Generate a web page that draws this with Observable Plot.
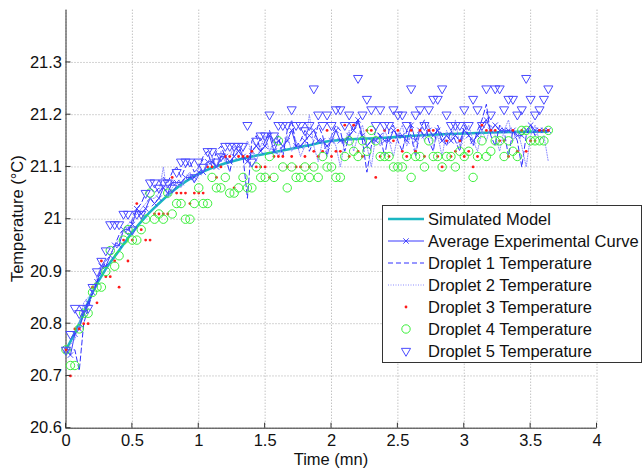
<!DOCTYPE html>
<html><head><meta charset="utf-8">
<script src="https://cdn.jsdelivr.net/npm/d3@7"></script>
<script src="https://cdn.jsdelivr.net/npm/@observablehq/plot@0.6"></script>
<style>body{margin:0;background:#fff;} svg{display:block;} #chart{position:relative;}</style>
</head><body><div id="chart"></div>
<script>
// sampling interval of the experimental series (minutes)
const sampleStep = 1 / 30;

// Simulated model (read at selected times)
const modelTime = [0, 0.1, 0.2, 0.3, 0.4, 0.5, 0.6, 0.7, 0.8, 0.9, 1.0, 1.2, 1.4, 1.6, 1.8, 2.0, 2.4, 2.8, 3.2, 3.63];
const modelTemp = [20.75, 20.80, 20.86, 20.905, 20.94, 20.975, 21.005, 21.03, 21.053, 21.072, 21.087, 21.107, 21.12, 21.13, 21.14, 21.15, 21.156, 21.162, 21.166, 21.168];

const avgTemp = [20.75,20.74,20.78,20.79,20.82,20.84,20.86,20.88,20.91,20.91,20.93,20.95,20.95,20.98,20.98,20.99,21.02,21.01,21.02,21.04,
21.03,21.04,21.06,21.05,21.07,21.07,21.07,21.08,21.08,21.08,21.09,21.09,21.11,21.11,21.10,21.12,21.12,21.11,21.12,21.13,
21.12,21.11,21.13,21.14,21.13,21.14,21.16,21.13,21.15,21.14,21.15,21.17,21.14,21.14,21.15,21.16,21.17,21.15,21.15,21.14,
21.15,21.17,21.15,21.15,21.16,21.17,21.19,21.16,21.14,21.15,21.15,21.16,21.15,21.15,21.17,21.16,21.16,21.15,21.18,21.15,
21.17,21.16,21.17,21.16,21.17,21.15,21.16,21.15,21.16,21.15,21.17,21.16,21.15,21.16,21.18,21.19,21.17,21.18,21.17,21.17,
21.17,21.17,21.16,21.16,21.17,21.18,21.17,21.17,21.17,21.17];

const droplet1 = [20.75,20.75,20.75,20.71,20.80,20.83,20.86,20.88,20.90,20.92,20.93,20.95,20.97,20.98,20.97,21.00,21.02,21.03,21.05,21.06,
21.05,21.06,21.08,21.07,21.09,21.10,21.08,21.10,21.11,21.09,21.10,21.12,21.13,21.10,21.13,21.14,21.12,21.09,21.13,21.14,
21.12,21.04,21.15,21.16,21.13,21.15,21.17,21.14,21.16,21.12,21.17,21.19,21.14,21.15,21.17,21.13,21.15,21.18,21.16,21.12,
21.16,21.18,21.17,21.13,21.16,21.18,21.19,21.15,21.09,21.14,21.17,21.16,21.12,21.17,21.18,21.15,21.13,21.17,21.16,21.12,
21.17,21.19,21.15,21.13,21.18,21.16,21.14,21.17,21.15,21.13,21.18,21.16,21.14,21.17,21.19,21.22,21.16,21.14,21.18,21.17,
21.12,21.17,21.15,21.10,21.16,21.18,21.16,21.17,21.17,21.17];

const droplet2 = [20.75,20.76,20.77,20.80,20.84,20.85,20.86,20.89,20.91,20.92,20.93,20.95,20.96,20.98,20.99,21.00,21.01,21.02,21.03,21.04,
21.04,21.05,21.10,21.04,21.06,21.07,21.06,21.08,21.09,21.07,21.10,21.09,21.11,21.12,21.10,21.13,21.11,21.12,21.14,21.12,
21.13,21.15,21.13,21.11,21.14,21.16,21.13,21.15,21.12,21.14,21.16,21.13,21.15,21.12,21.14,21.20,21.14,21.11,21.15,21.13,
21.16,21.14,21.10,21.15,21.17,21.13,21.16,21.18,21.14,21.10,21.16,21.14,21.17,21.15,21.12,21.16,21.18,21.14,21.16,21.13,
21.17,21.15,21.18,21.14,21.16,21.12,21.17,21.15,21.19,21.14,21.16,21.18,21.15,21.13,21.17,21.15,21.18,21.16,21.13,21.17,
21.19,21.15,21.17,21.14,21.10,21.16,21.18,21.15,21.16,21.11];

const droplet3 = [20.75,20.70,20.79,20.79,20.80,20.80,20.87,20.84,20.92,20.89,20.89,20.92,20.87,20.96,20.92,20.96,21.03,20.98,20.96,20.96,
21.01,21.01,21.01,21.01,21.08,21.05,21.05,21.05,21.03,21.05,21.05,21.05,21.10,21.10,21.08,21.10,21.12,21.12,21.06,21.12,
21.12,21.12,21.13,21.10,21.10,21.10,21.08,21.12,21.12,21.12,21.10,21.12,21.10,21.10,21.12,21.10,21.13,21.12,21.13,21.17,
21.12,21.13,21.13,21.18,21.12,21.18,21.13,21.12,21.17,21.17,21.08,21.12,21.17,21.12,21.15,21.17,21.13,21.12,21.17,21.13,
21.17,21.12,21.17,21.17,21.12,21.10,21.15,21.12,21.13,21.15,21.12,21.13,21.10,21.12,21.18,21.17,21.17,21.17,21.15,21.15,
21.12,21.17,21.13,21.17,21.13,21.15,21.15,21.17,21.17,21.17];

const droplet4 = [20.75,20.72,20.72,20.79,20.82,20.82,20.86,20.87,20.87,20.90,20.94,20.91,20.93,20.96,20.98,20.96,20.96,20.98,21.00,21.05,
21.00,21.01,21.00,21.05,21.01,21.03,21.03,21.00,21.00,21.03,21.06,21.03,21.03,21.08,21.06,21.06,21.08,21.05,21.05,21.06,
21.08,21.06,21.06,21.10,21.08,21.08,21.12,21.08,21.15,21.10,21.06,21.10,21.08,21.08,21.10,21.08,21.10,21.08,21.12,21.10,
21.10,21.08,21.08,21.12,21.15,21.13,21.12,21.15,21.13,21.17,21.15,21.12,21.12,21.12,21.10,21.10,21.10,21.12,21.08,21.12,
21.12,21.10,21.15,21.12,21.12,21.10,21.12,21.12,21.10,21.13,21.12,21.13,21.08,21.12,21.15,21.12,21.13,21.15,21.15,21.12,
21.15,21.13,21.12,21.17,21.17,21.15,21.15,21.15,21.15,21.17];

const droplet5 = [20.75,20.78,20.83,20.82,20.83,20.83,20.87,20.90,20.92,20.94,20.99,20.99,20.99,21.01,21.01,20.98,21.01,21.01,21.05,21.07,
21.07,21.06,21.07,21.07,21.06,21.09,21.11,21.11,21.11,21.08,21.11,21.10,21.13,21.13,21.11,21.12,21.14,21.14,21.14,21.14,
21.14,21.18,21.11,21.15,21.16,21.16,21.20,21.16,21.18,21.18,21.18,21.21,21.18,21.18,21.17,21.18,21.25,21.20,21.18,21.20,
21.18,21.21,21.21,21.18,21.20,21.18,21.27,21.20,21.23,21.21,21.18,21.21,21.18,21.18,21.21,21.20,21.20,21.18,21.25,21.20,
21.21,21.18,21.21,21.23,21.23,21.25,21.20,21.18,21.18,21.18,21.21,21.18,21.23,21.21,21.18,21.25,21.20,21.25,21.25,21.21,
21.23,21.23,21.20,21.21,21.27,21.23,21.20,21.21,21.23,21.25];

const xTicks = [0, 0.5, 1, 1.5, 2, 2.5, 3, 3.5, 4];
const yTicks = [20.6, 20.7, 20.8, 20.9, 21, 21.1, 21.2, 21.3];
const legendLabels = ["Simulated Model", "Average Experimental Curve", "Droplet 1 Temperature",
  "Droplet 2 Temperature", "Droplet 3 Temperature", "Droplet 4 Temperature", "Droplet 5 Temperature"];

const series = vals => vals.map((v, i) => ({t: i * sampleStep, v}));
const modelData = modelTime.map((t, i) => ({t, v: modelTemp[i]}));

const C = {model: "#1bb6c2", avg: "#3a3aff", d1: "#3030ff", d2: "#8c8cff", d3: "#ff1a1a", d4: "#3cf03c", d5: "#4a4aff"};
const font = "Liberation Sans, Arial, Helvetica, sans-serif";

const plot = Plot.plot({
  width: 643, height: 469,
  marginLeft: 65.5, marginRight: 46.5, marginTop: 9.7, marginBottom: 41.3,
  style: {fontFamily: font, fontSize: "16px", background: "#fff", color: "#111"},
  x: {domain: [0, 4]},
  y: {domain: [20.6, 21.4]},
  marks: [
    Plot.gridX(xTicks, {stroke: "#a8a8a8", strokeOpacity: 1, strokeDasharray: "1,2"}),
    Plot.gridY(yTicks, {stroke: "#a8a8a8", strokeOpacity: 1, strokeDasharray: "1,2"}),
    Plot.axisX(xTicks, {tickSize: 0, tickPadding: 6, label: null, tickFormat: d => String(d), fontSize: 16.5}),
    Plot.axisY(yTicks, {tickSize: 0, tickPadding: 4, label: null, tickFormat: d => String(d), fontSize: 16.5}),
    Plot.ruleX([0], {stroke: "#333"}),
    Plot.ruleY([20.6], {stroke: "#333"}),
    Plot.line(modelData, {x: "t", y: "v", stroke: C.model, strokeWidth: 2.6, curve: "monotone-x"}),
    Plot.line(series(avgTemp), {x: "t", y: "v", stroke: C.avg, strokeWidth: 1}),
    Plot.dot(series(avgTemp), {x: "t", y: "v", symbol: "times", r: 2.6, stroke: C.avg, strokeWidth: 0.9}),
    Plot.line(series(droplet1), {x: "t", y: "v", stroke: C.d1, strokeWidth: 1, strokeDasharray: "5,3"}),
    Plot.line(series(droplet2), {x: "t", y: "v", stroke: C.d2, strokeWidth: 1, strokeDasharray: "1,1.5"}),
    Plot.dot(series(droplet3), {x: "t", y: "v", r: 1.4, fill: C.d3, stroke: "none"}),
    Plot.dot(series(droplet4), {x: "t", y: "v", r: 4.2, fill: "none", stroke: C.d4, strokeWidth: 1}),
    Plot.dot(series(droplet5), {x: "t", y: "v", symbol: "triangle", r: 3.4, rotate: 180, fill: "none", stroke: C.d5, strokeWidth: 1})
  ]
});

document.getElementById("chart").appendChild(plot);

const svg = d3.select(plot);
const xs = plot.scale("x"), ys = plot.scale("y");
const x0 = xs.apply(0), y0 = ys.apply(20.6);

// inward tick marks
const tk = svg.append("g").attr("stroke", "#333").attr("stroke-width", 1);
xTicks.forEach(d => tk.append("line").attr("x1", xs.apply(d)).attr("x2", xs.apply(d)).attr("y1", y0).attr("y2", y0 - 5));
yTicks.forEach(d => tk.append("line").attr("x1", x0).attr("x2", x0 + 5).attr("y1", ys.apply(d)).attr("y2", ys.apply(d)));

// axis titles
svg.append("text").attr("x", (x0 + xs.apply(4)) / 2).attr("y", 459).attr("text-anchor", "middle")
  .attr("dominant-baseline", "central").attr("font-family", font).attr("font-size", 16.5).attr("fill", "#111").text("Time (mn)");
svg.append("text").attr("transform", `translate(17,${(ys.apply(21.4) + y0) / 2}) rotate(-90)`).attr("text-anchor", "middle")
  .attr("dominant-baseline", "central").attr("font-family", font).attr("font-size", 16.5).attr("fill", "#111").text("Temperature (°C)");

// legend
const lg = svg.append("g").attr("font-family", font).attr("font-size", 16.5).attr("text-anchor", "start");
lg.append("rect").attr("x", 382.5).attr("y", 205.5).attr("width", 259).attr("height", 157).attr("fill", "#fff").attr("stroke", "#333");
const rowY = i => 219 + i * 22;
const lx1 = 388, lx2 = 424, lxm = 406;
legendLabels.forEach((lab, i) => {
  lg.append("text").attr("x", 428).attr("y", rowY(i)).attr("text-anchor", "start").attr("dominant-baseline", "central").attr("fill", "#111").text(lab);
});
lg.append("line").attr("x1", lx1).attr("x2", lx2).attr("y1", rowY(0)).attr("y2", rowY(0)).attr("stroke", C.model).attr("stroke-width", 2.6);
lg.append("line").attr("x1", lx1).attr("x2", lx2).attr("y1", rowY(1)).attr("y2", rowY(1)).attr("stroke", C.avg).attr("stroke-width", 1);
lg.append("path").attr("d", d3.symbol(d3.symbolTimes, Math.PI * 2.6 * 2.6)()).attr("transform", `translate(${lxm},${rowY(1)})`).attr("stroke", C.avg).attr("fill", "none").attr("stroke-width", 0.9);
lg.append("line").attr("x1", lx1).attr("x2", lx2).attr("y1", rowY(2)).attr("y2", rowY(2)).attr("stroke", C.d1).attr("stroke-dasharray", "5,3");
lg.append("line").attr("x1", lx1).attr("x2", lx2).attr("y1", rowY(3)).attr("y2", rowY(3)).attr("stroke", C.d2).attr("stroke-dasharray", "1,1.5");
lg.append("circle").attr("cx", lxm).attr("cy", rowY(4)).attr("r", 1.4).attr("fill", C.d3);
lg.append("circle").attr("cx", lxm).attr("cy", rowY(5)).attr("r", 4.2).attr("fill", "none").attr("stroke", C.d4);
lg.append("path").attr("d", d3.symbol(d3.symbolTriangle, Math.PI * 3.4 * 3.4)()).attr("transform", `translate(${lxm},${rowY(6)}) rotate(180)`).attr("stroke", C.d5).attr("fill", "none");
</script>
</body></html>
